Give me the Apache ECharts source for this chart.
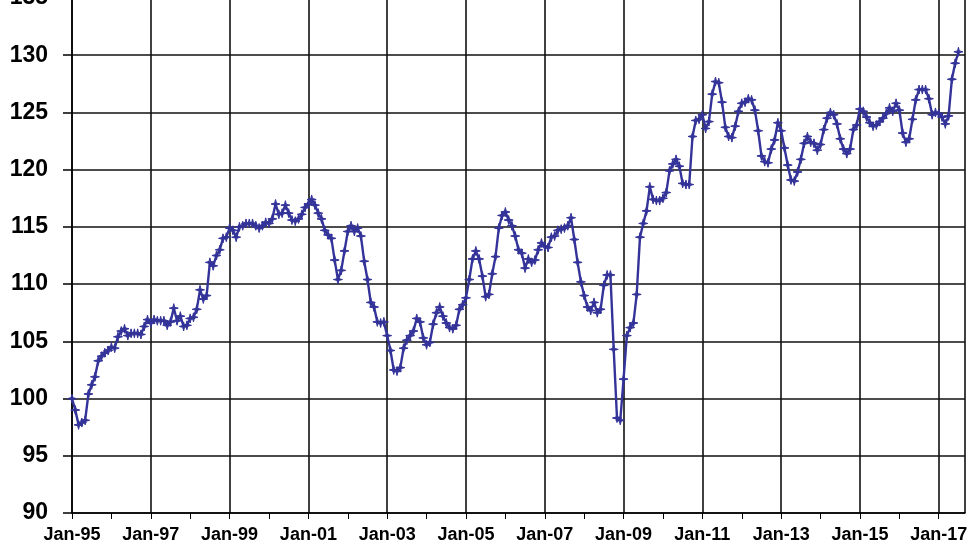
<!DOCTYPE html>
<html>
<head>
<meta charset="utf-8">
<script src="https://cdn.jsdelivr.net/npm/echarts@6/dist/echarts.min.js"></script>
<style>
html,body{margin:0;padding:0;background:#fff;}
#chart{width:980px;height:552px;}
</style>
</head>
<body>
<div id="chart"></div>
<script>
// Monthly index values, Jan-95 .. Jul-17 (one value per month)
const values = [
  100.0, 99.0, 97.7, 97.9, 98.1, 100.4, 101.2, 101.9, 103.3, 103.7, 104.0, 104.2,
  104.5, 104.4, 105.4, 105.9, 106.1, 105.5, 105.7, 105.7, 105.7, 105.6, 106.3, 106.9,
  106.6, 106.9, 106.8, 106.8, 106.8, 106.4, 106.7, 107.9, 106.8, 107.2, 106.3, 106.4,
  107.0, 107.1, 107.8, 109.5, 108.7, 109.0, 111.9, 111.6, 112.5, 113.0, 114.0, 114.1,
  114.9, 114.7, 114.1, 115.0, 115.1, 115.3, 115.3, 115.3, 115.1, 114.9, 115.1, 115.4,
  115.3, 115.7, 117.0, 116.1, 116.2, 116.9, 116.2, 115.6, 115.5, 115.7, 116.1, 116.7,
  117.0, 117.4, 116.9, 116.2, 115.7, 114.7, 114.3, 114.0, 112.1, 110.4, 111.2, 112.9,
  114.6, 115.1, 114.6, 114.9, 114.2, 112.0, 110.4, 108.4, 108.0, 106.7, 106.6, 106.7,
  105.5, 104.2, 102.5, 102.4, 102.7, 104.4, 105.1, 105.5, 105.9, 107.0, 106.7, 105.3,
  104.7, 104.9, 106.5, 107.5, 108.0, 107.2, 106.6, 106.2, 106.1, 106.4, 107.8, 108.2,
  108.8, 110.4, 112.2, 112.9, 112.2, 110.7, 108.9, 109.1, 110.9, 112.4, 114.9, 116.0,
  116.3, 115.6, 115.1, 114.2, 113.0, 112.7, 111.4, 112.2, 111.9, 112.1, 113.0, 113.6,
  113.3, 113.2, 114.1, 114.2, 114.7, 114.8, 114.9, 115.1, 115.8, 113.9, 111.9, 110.2,
  109.0, 108.0, 107.7, 108.4, 107.5, 107.8, 109.9, 110.8, 110.8, 104.3, 98.3, 98.1,
  101.7, 105.5, 106.2, 106.6, 109.1, 114.1, 115.3, 116.4, 118.5, 117.4, 117.3, 117.3,
  117.5, 118.0, 119.9, 120.5, 120.9, 120.3, 118.8, 118.7, 118.7, 122.9, 124.3, 124.4,
  124.8, 123.6, 124.2, 126.6, 127.7, 127.6, 125.9, 123.7, 122.9, 122.8, 123.8, 125.1,
  125.8, 125.9, 126.2, 126.1, 125.2, 123.4, 121.2, 120.7, 120.6, 121.8, 122.6, 124.1,
  123.4, 121.9, 120.4, 119.1, 119.0, 119.8, 120.9, 122.3, 122.9, 122.4, 122.3, 121.7,
  122.2, 123.5, 124.5, 125.0, 124.8, 124.0, 122.7, 121.8, 121.4, 121.8, 123.5, 123.9,
  125.3, 125.1, 124.6, 124.1, 123.8, 123.9, 124.2, 124.5, 124.9, 125.4, 125.1, 125.8,
  125.2, 123.2, 122.4, 122.7, 124.4, 126.1, 127.0, 127.0, 127.0, 126.2, 124.8, 125.0,
  124.9, 124.6, 124.0, 124.7, 127.9, 129.3, 130.3
];
// x tick labels, one every 24 months starting at Jan-95
const xTickLabels = ['Jan-95','Jan-97','Jan-99','Jan-01','Jan-03','Jan-05','Jan-07','Jan-09','Jan-11','Jan-13','Jan-15','Jan-17'];
const yMin = 90, yMax = 135, yStep = 5;

const seriesData = values.map((v, i) => [i, v]);

const lineColor = '#333399';
const font = '"Liberation Sans", Arial, sans-serif';

const chart = echarts.init(document.getElementById('chart'), null, {renderer: 'canvas'});
chart.setOption({
  animation: false,
  backgroundColor: '#ffffff',
  grid: {left: 72, right: 15, top: -2, bottom: 39, show: false, containLabel: false, outerBoundsMode: 'none'},
  xAxis: [{
    type: 'value', min: 0, max: 272, interval: 12,
    axisLine: {show: true, lineStyle: {color: '#000', width: 1.5}},
    axisTick: {show: true, inside: false, length: 6, lineStyle: {color: '#000', width: 1}},
    splitLine: {show: false},
    axisLabel: {
      margin: 13, color: '#000', fontSize: 18, fontWeight: 'bold', fontFamily: font,
      showMaxLabel: false,
      formatter: function (v) { return (v % 24 === 0 && xTickLabels[v / 24]) ? xTickLabels[v / 24] : ''; }
    }
  }, {
    type: 'value', min: 0, max: 272, interval: 24, position: 'bottom',
    axisLine: {show: false}, axisTick: {show: false}, axisLabel: {show: false},
    splitLine: {show: true, lineStyle: {color: '#111', width: 1.6}}
  }],
  yAxis: {
    type: 'value', min: yMin, max: yMax, interval: yStep,
    axisLine: {show: true, lineStyle: {color: '#000', width: 1.5}},
    axisTick: {show: true, inside: false, length: 9, lineStyle: {color: '#000', width: 1.5}},
    splitLine: {show: true, lineStyle: {color: '#111', width: 1.6}},
    axisLabel: {margin: 24, color: '#000', fontSize: 23, fontWeight: 'bold', fontFamily: font}
  },
  series: [{
    type: 'line',
    xAxisIndex: 0,
    data: seriesData,
    symbol: 'path://M5,0L6,4L10,5L6,6L5,10L4,6L0,5L4,4Z',
    symbolSize: 9,
    showAllSymbol: true,
    lineStyle: {color: lineColor, width: 2.4},
    itemStyle: {color: lineColor, borderColor: lineColor, borderWidth: 1}
  }]
});
</script>
</body>
</html>
